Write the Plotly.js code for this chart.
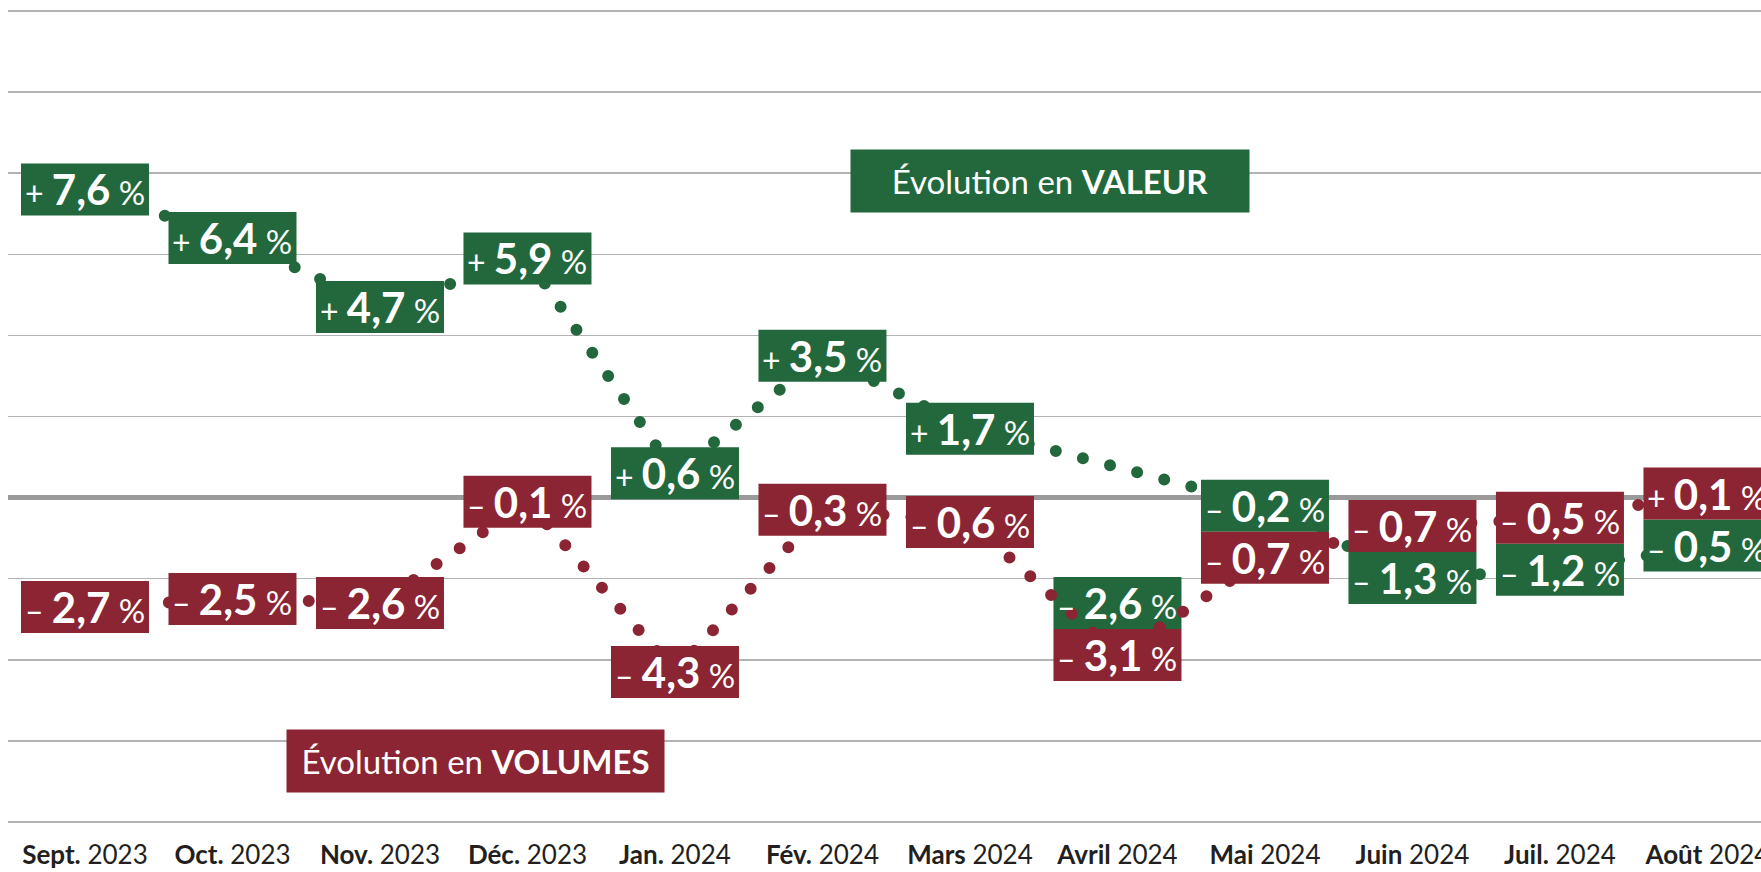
<!DOCTYPE html>
<html>
<head>
<meta charset="utf-8">
<script src="https://cdn.plot.ly/plotly-3.0.1.min.js"></script>
<style>
  html, body { margin: 0; padding: 0; background: #ffffff; }
  #chart { width: 1761px; height: 872px; }
  .js-line { stroke-linecap: round !important; }
</style>
</head>
<body>
<div id="chart"></div>
<script>
// ---------------- DATA ----------------
const months = ['Sept.', 'Oct.', 'Nov.', 'Déc.', 'Jan.', 'Fév.', 'Mars', 'Avril', 'Mai', 'Juin', 'Juil.', 'Août'];
const years  = ['2023', '2023', '2023', '2023', '2024', '2024', '2024', '2024', '2024', '2024', '2024', '2024'];
// Évolution en VALEUR (%)
const valeur  = [7.6, 6.4, 4.7, 5.9, 0.6, 3.5, 1.7, -2.6, -0.2, -1.3, -1.2, -0.5];
// Évolution en VOLUMES (%)
const volumes = [-2.7, -2.5, -2.6, -0.1, -4.3, -0.3, -0.6, -3.1, -0.7, -0.7, -0.5, 0.1];
// In the original, the value line runs straight from Mars to Mai
const valeurLineSkip = ['Avril'];

const seriesTitles = { valeur: 'Évolution en <b>VALEUR</b>', volumes: 'Évolution en <b>VOLUMES</b>' };

// ---------------- STYLE ----------------
const GREEN = '#22683c';
const RED = '#8b2533';
const FONT = "Lato, 'Open Sans', Roboto, sans-serif";
const W = 1761, H = 872;
const M = { l: 8, r: 0, t: 7, b: 46 };
const Y_RANGE = [-8.1, 12.1];
const X_RANGE = [-0.522, 11.363];
const BOX_W = 128, BOX_H = 52;
const plotH = H - M.t - M.b;
const PX_PER_UNIT = plotH / (Y_RANGE[1] - Y_RANGE[0]);

// ---------------- LABEL PLACEMENT ----------------
// each box sits on its value; when the two boxes of a month would overlap,
// they are stacked: the higher value keeps its place, the other goes just below it
const xs = months.map((_, i) => i);
const cV = [], cW = [];
valeur.forEach((v, i) => {
  const w = volumes[i];
  if (Math.abs(v - w) * PX_PER_UNIT < BOX_H) {
    const hi = Math.max(v, w);
    const lo = hi - BOX_H / PX_PER_UNIT;
    if (v >= w) { cV.push(hi); cW.push(lo); } else { cW.push(hi); cV.push(lo); }
  } else { cV.push(v); cW.push(w); }
});

function fmt(v) {
  const sign = v >= 0 ? '+' : '–';
  const num = Math.abs(v).toFixed(1).replace('.', ',');
  return '<span style="font-size:32px">' + sign + ' </span><b>' + num +
         '</b><span style="font-size:33px"> %</span>';
}

const shapes = [], annotations = [];
function addBox(i, center, value, color, layer) {
  shapes.push({
    type: 'rect', xref: 'x', yref: 'y', layer: layer,
    xsizemode: 'pixel', ysizemode: 'pixel',
    xanchor: i, yanchor: center,
    x0: -BOX_W / 2, x1: BOX_W / 2, y0: -BOX_H / 2, y1: BOX_H / 2,
    fillcolor: color, line: { width: 0 }
  });
  annotations.push({
    xref: 'x', yref: 'y', x: i, y: center, xanchor: 'center', yanchor: 'middle',
    text: fmt(value), showarrow: false,
    font: { family: FONT, size: 42, color: '#ffffff' }
  });
}
valeur.forEach((v, i) => addBox(i, cV[i], v, GREEN, 'between'));
volumes.forEach((v, i) => addBox(i, cW[i], v, RED, 'above'));

// series title boxes
annotations.push({
  xref: 'paper', yref: 'paper', x: (1050 - M.l) / (W - M.l - M.r), y: (H - M.b - 181) / plotH,
  xanchor: 'center', yanchor: 'middle', showarrow: false,
  text: seriesTitles.valeur, width: 398, height: 62, borderpad: 0, bgcolor: GREEN,
  font: { family: FONT, size: 33, color: '#ffffff' }
});
annotations.push({
  xref: 'paper', yref: 'paper', x: (475 - M.l) / (W - M.l - M.r), y: (H - M.b - 760.5) / plotH,
  xanchor: 'center', yanchor: 'middle', showarrow: false,
  text: seriesTitles.volumes, width: 377, height: 62, borderpad: 0, bgcolor: RED,
  font: { family: FONT, size: 33, color: '#ffffff' }
});

const dotLine = (color) => ({ color: color, width: 12, dash: '0px,28px' });

const traces = [
  {
    x: xs, y: cV.map((c, i) => valeurLineSkip.includes(months[i]) ? null : c),
    connectgaps: true, mode: 'lines', line: dotLine(GREEN), hoverinfo: 'skip', showlegend: false
  },
  {
    x: xs, y: cW, mode: 'lines', line: dotLine(RED), hoverinfo: 'skip', showlegend: false
  }
];

const layout = {
  width: W, height: H, margin: M,
  paper_bgcolor: '#ffffff', plot_bgcolor: '#ffffff',
  showlegend: false,
  xaxis: {
    range: X_RANGE, tickmode: 'array', tickvals: xs,
    ticktext: months.map((m, i) => '<b>' + m + '</b> ' + years[i]),
    showgrid: false, zeroline: false, showline: false, ticks: '',
    ticklabelstandoff: 11, ticklabeloverflow: 'allow',
    tickfont: { family: FONT, size: 26, color: '#231f20' }
  },
  yaxis: {
    range: Y_RANGE, tick0: 0, dtick: 2, showticklabels: false, ticks: '',
    showgrid: true, gridcolor: '#b3b3b3', gridwidth: 1.6,
    zeroline: true, zerolinecolor: '#9a9a9a', zerolinewidth: 4.5, showline: false
  },
  shapes: shapes,
  annotations: annotations
};

Plotly.newPlot('chart', traces, layout, { staticPlot: true, displayModeBar: false });
</script>
</body>
</html>
